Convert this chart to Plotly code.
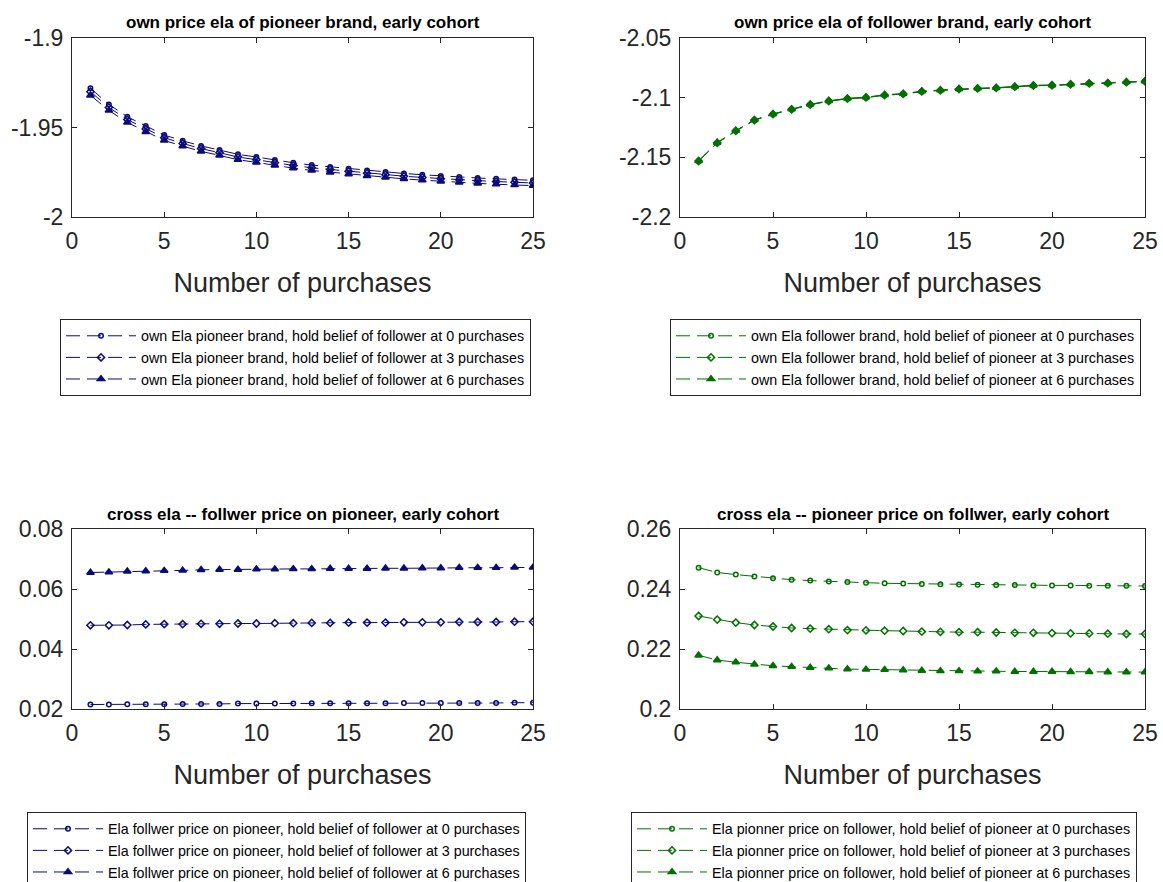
import plotly.graph_objects as go

# Number of purchases on the x axis
purchases = list(range(1, 26))

# Own price elasticity of the pioneer brand (belief of follower held at 0, 3, 6 purchases)
own_pioneer_b0 = [-1.9281, -1.9371, -1.9440, -1.9492, -1.9542, -1.9574, -1.9603, -1.9626, -1.9650,
                  -1.9665, -1.9682, -1.9697, -1.9710, -1.9720, -1.9730, -1.9740, -1.9749, -1.9757,
                  -1.9764, -1.9771, -1.9777, -1.9782, -1.9787, -1.9791, -1.9795]
own_pioneer_b3 = [-1.9300, -1.9388, -1.9456, -1.9508, -1.9557, -1.9589, -1.9618, -1.9641, -1.9665,
                  -1.9680, -1.9697, -1.9712, -1.9725, -1.9735, -1.9745, -1.9755, -1.9764, -1.9772,
                  -1.9779, -1.9786, -1.9792, -1.9797, -1.9802, -1.9806, -1.9810]
own_pioneer_b6 = [-1.9320, -1.9405, -1.9472, -1.9524, -1.9572, -1.9604, -1.9633, -1.9656, -1.9680,
                  -1.9695, -1.9712, -1.9727, -1.9740, -1.9750, -1.9760, -1.9770, -1.9779, -1.9787,
                  -1.9794, -1.9801, -1.9807, -1.9812, -1.9817, -1.9821, -1.9825]

# Own price elasticity of the follower brand (belief of pioneer held at 0, 3, 6 purchases)
own_follower_b0 = [-2.1533, -2.1380, -2.1280, -2.1190, -2.1140, -2.1100, -2.1060, -2.1030, -2.1010,
                   -2.1000, -2.0980, -2.0970, -2.0950, -2.0940, -2.0930, -2.0925, -2.0920, -2.0910,
                   -2.0900, -2.0898, -2.0890, -2.0882, -2.0880, -2.0872, -2.0865]
own_follower_b3 = [-2.1531, -2.1378, -2.1278, -2.1188, -2.1138, -2.1098, -2.1058, -2.1028, -2.1008,
                   -2.0998, -2.0978, -2.0968, -2.0948, -2.0938, -2.0928, -2.0923, -2.0918, -2.0908,
                   -2.0898, -2.0896, -2.0888, -2.0880, -2.0878, -2.0870, -2.0863]
own_follower_b6 = [-2.1529, -2.1376, -2.1276, -2.1186, -2.1136, -2.1096, -2.1056, -2.1026, -2.1006,
                   -2.0996, -2.0976, -2.0966, -2.0946, -2.0936, -2.0926, -2.0921, -2.0916, -2.0906,
                   -2.0896, -2.0894, -2.0886, -2.0878, -2.0876, -2.0868, -2.0861]

# Cross elasticity: follower price on pioneer
cross_fp_b0 = [0.0215, 0.0215, 0.0216, 0.0216, 0.0216, 0.0217, 0.0217, 0.0217, 0.0218, 0.0218,
               0.0218, 0.0218, 0.0219, 0.0219, 0.0219, 0.0219, 0.0219, 0.0220, 0.0220, 0.0220,
               0.0220, 0.0220, 0.0220, 0.0221, 0.0221]
cross_fp_b3 = [0.0479, 0.0479, 0.0480, 0.0482, 0.0483, 0.0483, 0.0484, 0.0484, 0.0485, 0.0485,
               0.0486, 0.0486, 0.0487, 0.0487, 0.0488, 0.0488, 0.0488, 0.0489, 0.0489, 0.0489,
               0.0490, 0.0490, 0.0490, 0.0491, 0.0491]
cross_fp_b6 = [0.0655, 0.0656, 0.0659, 0.0660, 0.0661, 0.0662, 0.0664, 0.0665, 0.0665, 0.0666,
               0.0666, 0.0667, 0.0667, 0.0668, 0.0668, 0.0668, 0.0669, 0.0669, 0.0670, 0.0670,
               0.0671, 0.0671, 0.0671, 0.0672, 0.0672]

# Cross elasticity: pioneer price on follower
cross_pf_b0 = [0.2471, 0.2455, 0.2448, 0.2442, 0.2436, 0.2431, 0.2428, 0.2425, 0.2423, 0.2421,
               0.2419, 0.2418, 0.2417, 0.2416, 0.2415, 0.2414, 0.2413, 0.2413, 0.2412, 0.2412,
               0.2412, 0.2411, 0.2411, 0.2411, 0.2410]
cross_pf_b3 = [0.2310, 0.2298, 0.2288, 0.2280, 0.2275, 0.2270, 0.2268, 0.2266, 0.2263, 0.2262,
               0.2261, 0.2260, 0.2258, 0.2257, 0.2256, 0.2256, 0.2255, 0.2254, 0.2254, 0.2253,
               0.2252, 0.2252, 0.2251, 0.2250, 0.2250]
cross_pf_b6 = [0.2179, 0.2163, 0.2156, 0.2149, 0.2144, 0.2141, 0.2138, 0.2136, 0.2133, 0.2132,
               0.2131, 0.2130, 0.2128, 0.2127, 0.2127, 0.2126, 0.2126, 0.2125, 0.2125, 0.2125,
               0.2124, 0.2124, 0.2123, 0.2123, 0.2123]

belief_levels = [0, 3, 6]

# Tick labels
x_ticks = [0, 5, 10, 15, 20, 25]
y_ticks_tl = [-2.0, -1.95, -1.9]
y_text_tl = ["-2", "-1.95", "-1.9"]
y_ticks_tr = [-2.2, -2.15, -2.1, -2.05]
y_text_tr = ["-2.2", "-2.15", "-2.1", "-2.05"]
y_ticks_bl = [0.02, 0.04, 0.06, 0.08]
y_text_bl = ["0.02", "0.04", "0.06", "0.08"]
y_ticks_br = [0.2, 0.22, 0.24, 0.26]
y_text_br = ["0.2", "0.22", "0.24", "0.26"]

titles = [
    "own price ela of pioneer brand, early cohort",
    "own price ela of follower brand, early cohort",
    "cross ela -- follwer price on pioneer, early cohort",
    "cross ela -- pioneer price on follwer, early cohort",
]

NAVY = "#0a0a78"
GREEN = "#007000"
AXC = "#262626"
W, H = 1163, 882
FONT = "Liberation Sans, Arial, Helvetica, sans-serif"

def px_x(p):
    return p / W

def px_y(p):
    return 1 - p / H

panels = [
    # (series, label template, colour, yticks, ytext, x px range, y px range,
    #  legend top px, legend left px, title y px)
    ([own_pioneer_b0, own_pioneer_b3, own_pioneer_b6],
     "own Ela pioneer brand, hold belief of follower at {} purchases", NAVY,
     y_ticks_tl, y_text_tl, (72, 533), (38, 217), 319, 60, 23),
    ([own_follower_b0, own_follower_b3, own_follower_b6],
     "own Ela follower brand, hold belief of pioneer at {} purchases", GREEN,
     y_ticks_tr, y_text_tr, (680, 1145), (38, 217), 319, 670, 23),
    ([cross_fp_b0, cross_fp_b3, cross_fp_b6],
     "Ela follwer price on pioneer, hold belief of follower at {} purchases", NAVY,
     y_ticks_bl, y_text_bl, (72, 533), (529, 709), 812, 27, 514),
    ([cross_pf_b0, cross_pf_b3, cross_pf_b6],
     "Ela pionner price on follower, hold belief of pioneer at {} purchases", GREEN,
     y_ticks_br, y_text_br, (680, 1145), (529, 709), 812, 631, 514),
]

symbols = ["circle-open", "diamond-open", "triangle-up"]
sizes = [4.5, 5.5, 6.5]

fig = go.Figure()
layout = dict(
    width=W, height=H, margin=dict(l=0, r=0, t=0, b=0, autoexpand=False),
    paper_bgcolor="white", plot_bgcolor="white",
    font=dict(family=FONT, color=AXC),
    annotations=[],
)

for i, (series, label, col, yt, ytx, xr, yr, leg_top, leg_left, title_y) in enumerate(panels):
    n = i + 1
    xa = "x" if n == 1 else f"x{n}"
    ya = "y" if n == 1 else f"y{n}"
    leg = "legend" if n == 1 else f"legend{n}"
    for k, vals in enumerate(series):
        fig.add_trace(go.Scatter(
            x=purchases, y=vals, xaxis=xa, yaxis=ya, legend=leg,
            name=label.format(belief_levels[k]),
            mode="lines+markers",
            line=dict(color=col, width=1, dash="14px,7px"),
            marker=dict(symbol=symbols[k], size=sizes[k], color=col,
                        line=dict(color=col, width=1.5)),
            showlegend=True,
        ))
    axis_common = dict(showline=True, linecolor=AXC, linewidth=1, mirror="ticks",
                       ticks="inside", ticklen=5, tickcolor=AXC, showgrid=False,
                       zeroline=False, automargin=False,
                       tickfont=dict(size=23, color=AXC, family=FONT))
    layout["xaxis" if n == 1 else f"xaxis{n}"] = dict(
        axis_common, domain=[px_x(xr[0]), px_x(xr[1])], range=[0, 25],
        tickvals=x_ticks, ticktext=[str(v) for v in x_ticks], anchor=ya,
        ticklabelstandoff=3,
        title=dict(text="Number of purchases", font=dict(size=27, color=AXC, family=FONT),
                   standoff=20),
    )
    layout["yaxis" if n == 1 else f"yaxis{n}"] = dict(
        axis_common, domain=[px_y(yr[1]), px_y(yr[0])], range=[yt[0], yt[-1]],
        tickvals=yt, ticktext=ytx, anchor=xa, ticklabelstandoff=3,
    )
    layout[leg] = dict(
        x=px_x(leg_left), y=px_y(leg_top), xanchor="left", yanchor="top",
        bgcolor="white", bordercolor=AXC, borderwidth=1,
        font=dict(size=14.3, color="black", family=FONT),
        itemwidth=70, tracegroupgap=0,
    )
    layout["annotations"].append(dict(
        text=f"<b>{titles[i]}</b>", x=(px_x(xr[0]) + px_x(xr[1])) / 2, y=px_y(title_y),
        xref="paper", yref="paper", showarrow=False, xanchor="center", yanchor="middle",
        font=dict(size=17, color="black", family=FONT),
    ))

fig.update_layout(**layout)
fig.write_html("out.html")
